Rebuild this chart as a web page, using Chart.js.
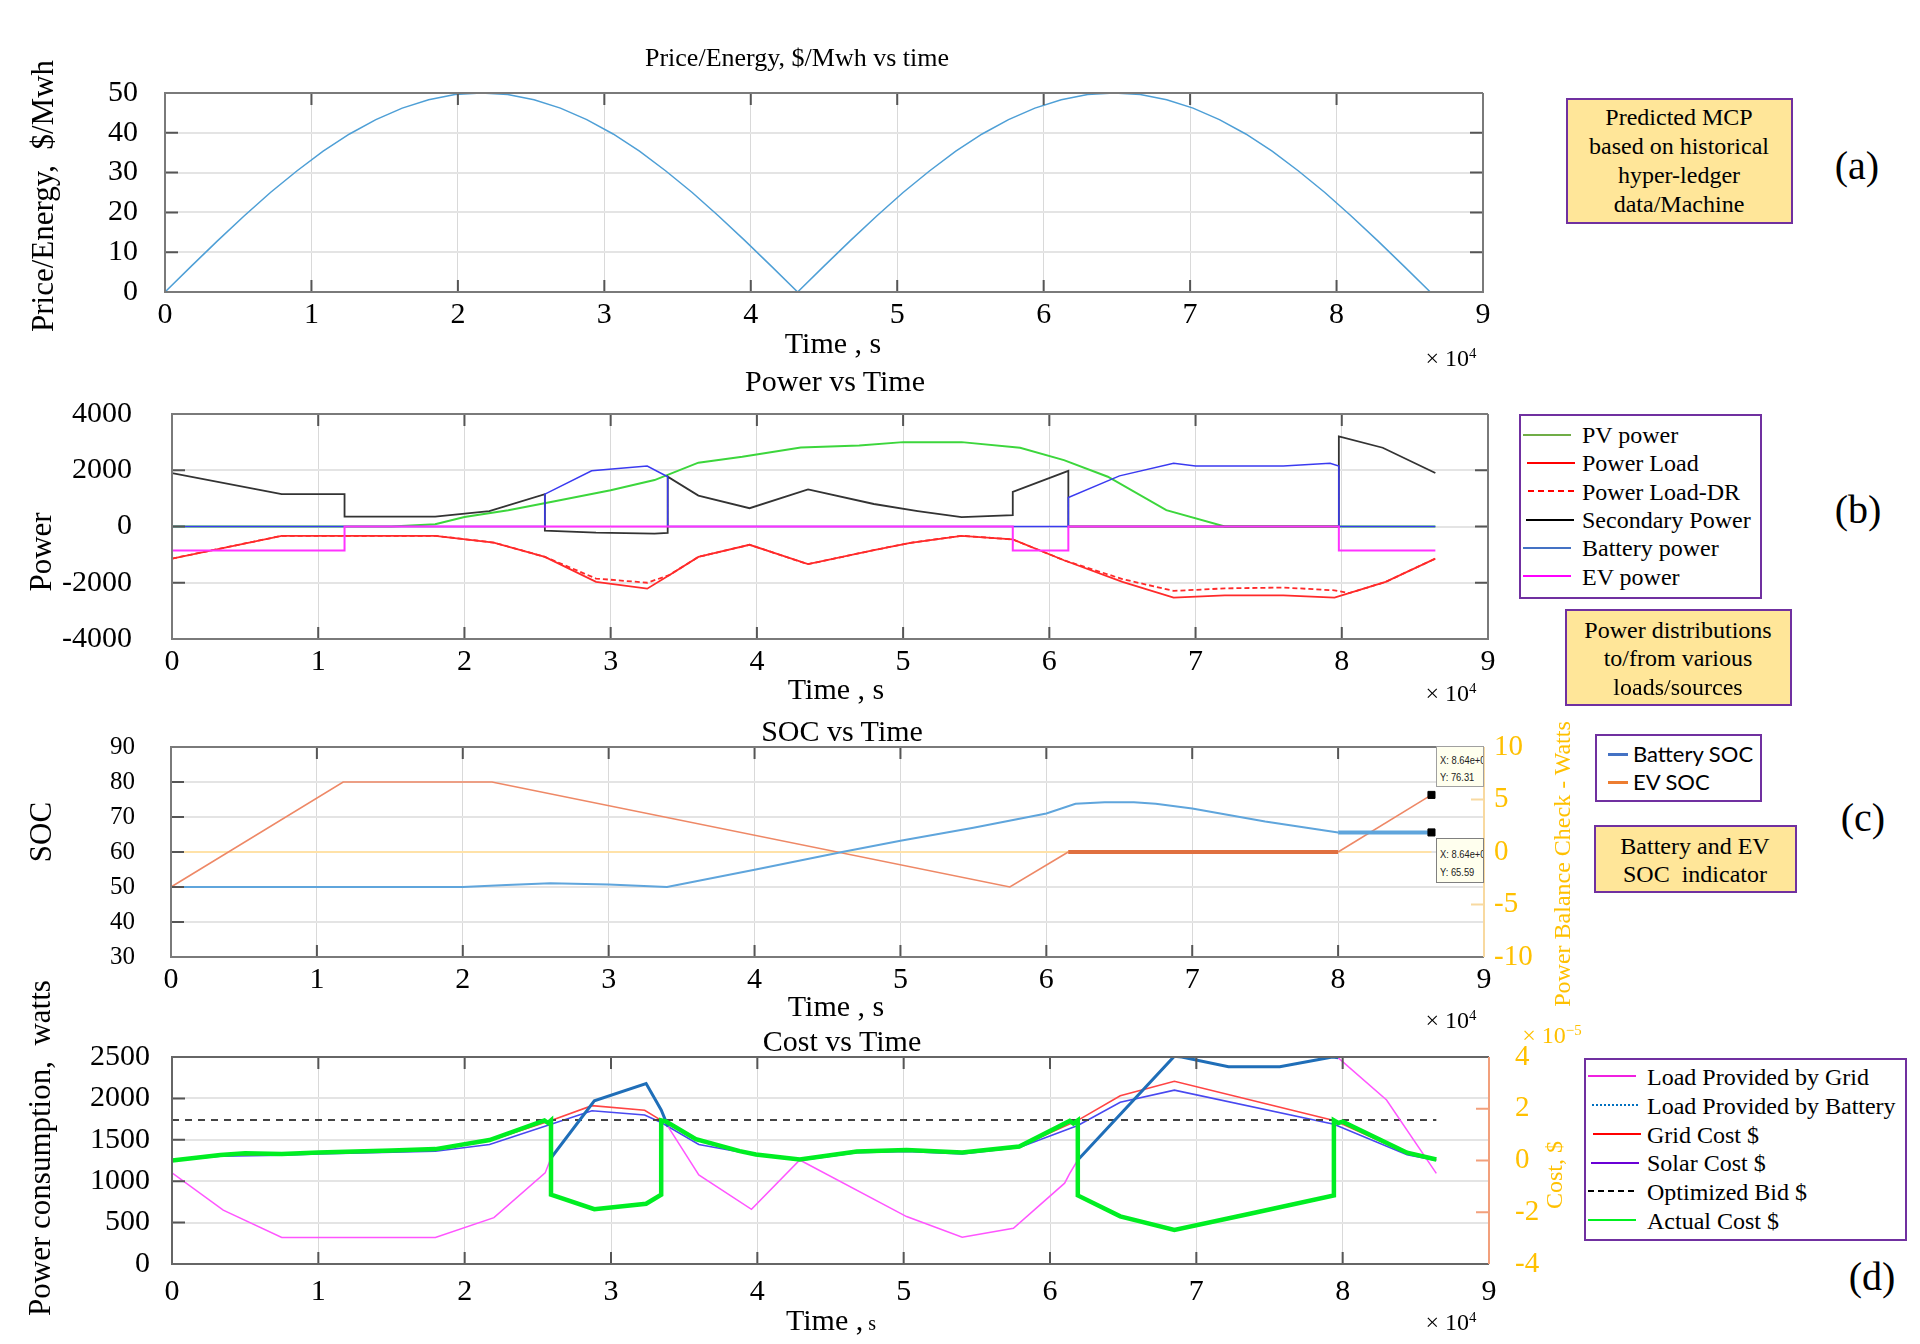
<!DOCTYPE html>
<html>
<head>
<meta charset="utf-8">
<script src="https://cdn.jsdelivr.net/npm/chart.js@4.4.0/dist/chart.umd.min.js"></script>
<style>
  body { margin: 0; width: 1920px; height: 1344px; background: #fff; position: relative; overflow: hidden;
         font-family: "Liberation Serif", "Times New Roman", serif; color: #000; }
  canvas { position: absolute; }
  .t { position: absolute; white-space: nowrap; line-height: 1; transform: translate(-50%, -50%); }
  .l { position: absolute; white-space: nowrap; line-height: 1; transform: translate(0, -50%); }
  .rot { transform: translate(-50%, -50%) rotate(-90deg); }
  .box { position: absolute; box-sizing: border-box; border: 2px solid #7030A0; }
  .note { background: #FFE699; }
  .ln { position: absolute; height: 0; }
  .tip { position: absolute; box-sizing: border-box; background: #FFFFEE; border: 1px solid #A0A0A0; overflow: hidden;
         font-family: "Liberation Sans", Arial, sans-serif; font-size: 11px; color: #222; }
  .tip div { position: absolute; left: 3px; white-space: nowrap; transform: scaleX(0.85); transform-origin: left; }
  sup { font-size: 0.62em; vertical-align: 0.6em; }
</style>
</head>
<body>
<canvas id="pa"></canvas>
<canvas id="pb"></canvas>
<canvas id="pc"></canvas>
<canvas id="pd"></canvas>

<!-- titles -->
<div class="t" style="left:797px;top:58px;font-size:26px">Price/Energy, $/Mwh vs time</div>
<div class="t" style="left:835px;top:381px;font-size:30px">Power vs Time</div>
<div class="t" style="left:842px;top:731px;font-size:30px">SOC vs Time</div>
<div class="t" style="left:842px;top:1041px;font-size:30px">Cost vs Time</div>

<!-- x axis titles -->
<div class="t" style="left:833px;top:343px;font-size:30px">Time , s</div>
<div class="t" style="left:836px;top:689px;font-size:30px">Time , s</div>
<div class="t" style="left:836px;top:1006px;font-size:30px">Time , s</div>
<div class="t" style="left:831px;top:1320px;font-size:30px">Time ,<span style="font-size:20px"> s</span></div>

<div class="t" style="left:1451px;top:358px;font-size:24px">× 10<sup>4</sup></div>
<div class="t" style="left:1451px;top:693px;font-size:24px">× 10<sup>4</sup></div>
<div class="t" style="left:1451px;top:1020px;font-size:24px">× 10<sup>4</sup></div>
<div class="t" style="left:1451px;top:1322px;font-size:24px">× 10<sup>4</sup></div>

<!-- y axis titles -->
<div class="t rot" style="left:42px;top:196px;font-size:31px">Price/Energy,&nbsp; $/Mwh</div>
<div class="t rot" style="left:40px;top:552px;font-size:31px">Power</div>
<div class="t rot" style="left:40px;top:832px;font-size:31px">SOC</div>
<div class="t rot" style="left:39px;top:1148px;font-size:31px">Power consumption,&nbsp; watts</div>
<div class="t rot" style="left:1562px;top:864px;font-size:24px;color:#FFC000">Power Balance Check - Watts</div>
<div class="t rot" style="left:1554px;top:1175px;font-size:24px;color:#FFC000">Cost, $</div>
<div class="t" style="left:1552px;top:1035px;font-size:24px;color:#FFC000">× 10<sup>−5</sup></div>

<!-- panel letters -->
<div class="t" style="left:1857px;top:166px;font-size:40px">(a)</div>
<div class="t" style="left:1858px;top:510px;font-size:40px">(b)</div>
<div class="t" style="left:1863px;top:818px;font-size:40px">(c)</div>
<div class="t" style="left:1872px;top:1277px;font-size:40px">(d)</div>

<!-- note boxes -->
<div class="box note" style="left:1566px;top:98px;width:227px;height:126px"></div>
<div class="t" style="left:1679px;top:117px;font-size:24px">Predicted MCP</div>
<div class="t" style="left:1679px;top:146px;font-size:24px">based on historical</div>
<div class="t" style="left:1679px;top:175px;font-size:24px">hyper-ledger</div>
<div class="t" style="left:1679px;top:204px;font-size:24px">data/Machine</div>

<div class="box note" style="left:1565px;top:609px;width:227px;height:97px"></div>
<div class="t" style="left:1678px;top:630px;font-size:24px">Power distributions</div>
<div class="t" style="left:1678px;top:658px;font-size:24px">to/from various</div>
<div class="t" style="left:1678px;top:687px;font-size:24px">loads/sources</div>

<div class="box note" style="left:1594px;top:825px;width:203px;height:68px"></div>
<div class="t" style="left:1695px;top:846px;font-size:24px">Battery and EV</div>
<div class="t" style="left:1695px;top:874px;font-size:24px">SOC&nbsp; indicator</div>

<!-- legend (b) -->
<div class="box" style="left:1519px;top:414px;width:243px;height:185px"></div>
<div class="ln" style="left:1523px;top:434px;width:48px;border-top:2px solid #70AD47"></div>
<div class="ln" style="left:1527px;top:462px;width:48px;border-top:2px solid #FF0000"></div>
<div class="ln" style="left:1528px;top:490px;width:46px;border-top:2px dashed #FF0000"></div>
<div class="ln" style="left:1526px;top:519px;width:48px;border-top:2px solid #000000"></div>
<div class="ln" style="left:1523px;top:547px;width:48px;border-top:2px solid #4472C4"></div>
<div class="ln" style="left:1523px;top:575px;width:48px;border-top:2px solid #FF00FF"></div>
<div class="l" style="left:1582px;top:435px;font-size:24px">PV power</div>
<div class="l" style="left:1582px;top:463px;font-size:24px">Power Load</div>
<div class="l" style="left:1582px;top:492px;font-size:24px">Power Load-DR</div>
<div class="l" style="left:1582px;top:520px;font-size:24px">Secondary Power</div>
<div class="l" style="left:1582px;top:548px;font-size:24px">Battery power</div>
<div class="l" style="left:1582px;top:577px;font-size:24px">EV power</div>

<!-- legend (c) -->
<div class="box" style="left:1595px;top:734px;width:167px;height:68px"></div>
<div class="ln" style="left:1608px;top:753px;width:20px;border-top:3px solid #4472C4"></div>
<div class="ln" style="left:1608px;top:781px;width:20px;border-top:3px solid #ED7D31"></div>
<div class="l" style="left:1633px;top:754px;font-size:22px;font-family:Lato,'Open Sans',sans-serif">Battery SOC</div>
<div class="l" style="left:1633px;top:782px;font-size:22px;font-family:Lato,'Open Sans',sans-serif">EV SOC</div>

<!-- legend (d) -->
<div class="box" style="left:1584px;top:1058px;width:323px;height:183px"></div>
<div class="ln" style="left:1588px;top:1075px;width:48px;border-top:2px solid #F020E0"></div>
<div class="ln" style="left:1592px;top:1104px;width:46px;border-top:2px dotted #0070C0"></div>
<div class="ln" style="left:1593px;top:1133px;width:48px;border-top:2px solid #FF0000"></div>
<div class="ln" style="left:1591px;top:1162px;width:48px;border-top:2px solid #6A00D6"></div>
<div class="ln" style="left:1588px;top:1190px;width:46px;border-top:2px dashed #000000"></div>
<div class="ln" style="left:1588px;top:1219px;width:48px;border-top:2px solid #00F020"></div>
<div class="l" style="left:1647px;top:1077px;font-size:24px">Load Provided by Grid</div>
<div class="l" style="left:1647px;top:1106px;font-size:24px">Load Provided by Battery</div>
<div class="l" style="left:1647px;top:1135px;font-size:24px">Grid Cost $</div>
<div class="l" style="left:1647px;top:1163px;font-size:24px">Solar Cost $</div>
<div class="l" style="left:1647px;top:1192px;font-size:24px">Optimized Bid $</div>
<div class="l" style="left:1647px;top:1221px;font-size:24px">Actual Cost $</div>

<!-- data tips (c) -->
<div class="tip" style="left:1436px;top:746px;width:48px;height:41px">
  <div style="top:7px">X: 8.64e+04</div><div style="top:24px">Y: 76.31</div>
</div>
<div class="tip" style="left:1436px;top:838px;width:48px;height:45px;border-color:#808080">
  <div style="top:9px">X: 8.64e+04</div><div style="top:27px">Y: 65.59</div>
</div>

<script>
// ---- (a) price, $/MWh vs time (s)
const priceTime = [0, 1800, 3600, 5400, 7200, 9000, 10800, 12600, 14400, 16200, 18000, 19800, 21600,
  23400, 25200, 27000, 28800, 30600, 32400, 34200, 36000, 37800, 39600, 41400, 43200,
  45000, 46800, 48600, 50400, 52200, 54000, 55800, 57600, 59400, 61200, 63000, 64800,
  66600, 68400, 70200, 72000, 73800, 75600, 77400, 79200, 81000, 82800, 84600, 86400];
const priceValue = [0, 6.5, 12.9, 19.1, 25.0, 30.4, 35.4, 39.7, 43.3, 46.2, 48.3, 49.6, 50.0,
  49.6, 48.3, 46.2, 43.3, 39.7, 35.4, 30.4, 25.0, 19.1, 12.9, 6.5, 0,
  6.5, 12.9, 19.1, 25.0, 30.4, 35.4, 39.7, 43.3, 46.2, 48.3, 49.6, 50.0,
  49.6, 48.3, 46.2, 43.3, 39.7, 35.4, 30.4, 25.0, 19.1, 12.9, 6.5, 0];

// ---- (b) power, W
const pvTime = [0, 15000, 18000, 20000, 23000, 26000, 30000, 33000, 36000, 39000, 43000, 47000, 50000,
  54000, 58000, 61000, 64000, 68000, 72000, 86400];
const pvPower = [0, 0, 80, 340, 580, 880, 1290, 1650, 2270, 2480, 2810, 2880, 3000,
  3000, 2800, 2360, 1770, 580, 0, 0];

const loadTime = [0, 7500, 18000, 22000, 25500, 29000, 32500, 34000, 36000, 39500, 43500, 48000,
  50500, 54000, 57500, 61000, 65000, 68500, 72000, 76000, 79500, 80500, 83000, 86400];
const loadPower = [-1140, -330, -330, -570, -1080, -1970, -2210, -1730, -1080, -650, -1340, -840,
  -580, -330, -460, -1200, -1970, -2530, -2450, -2450, -2530, -2370, -1970, -1140];
const loadDrPower = [-1140, -330, -330, -570, -1080, -1850, -2000, -1730, -1080, -650, -1340, -840,
  -580, -330, -460, -1200, -1870, -2290, -2200, -2170, -2270, -2370, -1970, -1140];

const secTime = [0, 7500, 11800, 11800, 18000, 21700, 25500, 25500, 29000, 33000, 33900, 33900, 36000,
  39500, 43500, 48000, 51000, 54000, 57500, 57500, 61300, 61300, 79800, 79800, 82800, 86400];
const secPower = [1900, 1150, 1150, 350, 350, 550, 1150, -150, -220, -250, -230, 1770, 1100,
  650, 1320, 800, 550, 330, 400, 1230, 1980, 0, 0, 3200, 2800, 1900];

const batTime = [0, 25500, 25500, 28700, 32500, 33900, 33900, 61300, 61300, 64800, 68500, 70000,
  76000, 79200, 79800, 79800, 86400];
const batPower = [0, 0, 1150, 1980, 2150, 1770, 0, 0, 1030, 1800, 2250, 2150,
  2150, 2250, 2150, 0, 0];

const evTime = [0, 11800, 11800, 57500, 57500, 61300, 61300, 79800, 79800, 86400];
const evPower = [-850, -850, 0, 0, -850, -850, 0, 0, -850, -850];

// ---- (c) state of charge, %
const batSocTime = [0, 20000, 23000, 26000, 30000, 34000, 40000, 46000, 50000, 55000, 60000, 62000,
  64000, 66000, 67500, 70000, 75000, 80000, 86400];
const batSocValue = [50, 50, 50.6, 51.1, 50.7, 50, 54.9, 60, 63.2, 66.9, 71, 73.8,
  74.2, 74.2, 73.8, 72.4, 68.7, 65.59, 65.59];
const evSocTime = [0, 11800, 22000, 57500, 61500, 80000, 86400];
const evSocValue = [50, 80, 80, 50, 60, 60, 76.31];
const balanceTime = [0, 86400];
const balanceValue = [0, 0];
const tipTime = [86400, 86400];
const tipValue = [76.31, 65.59];

// ---- (d) consumption, W (left) and cost, x1e-5 $ (right)
const gridLoadTime = [0, 3500, 7500, 18000, 22000, 25500, 25900, 30000, 33900, 36000, 39600, 42900,
  50200, 54000, 57500, 61000, 61350, 61900, 70000, 79700, 83000, 86400];
const gridLoadValue = [1100, 650, 320, 320, 560, 1100, 1280, null, 1660, 1075, 660, 1256,
  573, 323, 431, 976, 1095, 1256, null, 2490, 1980, 1095];
const batLoadTime = [25900, 28860, 32400, 33430, 33900, 50000, 61900, 68500, 69000, 72200, 75700, 79300, 79700];
const batLoadValue = [1280, 1970, 2180, 1860, 1660, null, 1256, 2510, 2500, 2383, 2383, 2500, 2490];

const actualTime = [0, 3300, 5000, 7500, 10000, 15000, 18000, 21700, 25450, 25700, 25900, 25900, 28860,
  32400, 33430, 33430, 33770, 35800, 38800, 39900, 42900, 46800, 50200, 54000, 57900, 61350, 61600,
  61900, 61900, 64800, 68500, 73900, 79400, 79400, 79700, 80000, 84400, 86400];
const actualCost = [0, 0.21, 0.28, 0.25, 0.31, 0.39, 0.44, 0.79, 1.55, 1.45, 1.55, -1.32, -1.88,
  -1.67, -1.32, 1.55, 1.5, 0.82, 0.36, 0.23, 0.04, 0.35, 0.41, 0.31, 0.54, 1.53, 1.43,
  1.55, -1.35, -2.16, -2.68, -2.03, -1.35, 1.55, 1.45, 1.5, 0.30, 0.04];
const costTime = [0, 3300, 7500, 10000, 18000, 21700, 25900, 28700, 32300, 33430, 36000, 38800, 42900,
  46800, 50200, 54000, 57900, 61900, 64800, 68500, 79400, 84400, 86400];
const gridCost = [0, 0.2, 0.24, 0.3, 0.42, 0.76, 1.55, 2.12, 1.94, 1.55, 0.8, 0.35, 0.03,
  0.34, 0.4, 0.3, 0.53, 1.55, 2.5, 3.06, 1.55, 0.28, 0.03];
const solarCost = [0, 0.17, 0.2, 0.25, 0.36, 0.62, 1.4, 1.92, 1.76, 1.47, 0.62, 0.33, 0.0,
  0.3, 0.35, 0.25, 0.5, 1.35, 2.25, 2.72, 1.4, 0.22, 0.0];
const bidTime = [0, 86400];
const bidCost = [1.57, 1.57];

// ---------------------------------------------------------------
// padT must cover half a tick label plus the y tick padding, or chart.js pushes the plot down
const yW = 130, rW = 80, padT = 70, xH = 60;
Chart.defaults.font.family = "'Liberation Serif', 'Times New Roman', serif";
Chart.defaults.color = '#000';

function pts(ts, vs) {
  return ts.map((t, i) => ({ x: t, y: vs[i] }));
}

function line(label, ts, vs, color, width, extra) {
  return Object.assign({ label, data: pts(ts, vs), borderColor: color, borderWidth: width,
    pointRadius: 0, fill: false, tension: 0 }, extra || {});
}

// frame + short inner tick marks, matlab style
const frame = {
  id: 'frame',
  afterDatasetsDraw(chart, args, opts) {
    const { ctx, chartArea: a, scales } = chart;
    ctx.save();
    ctx.lineWidth = 2;
    ctx.strokeStyle = '#555';
    ctx.beginPath();
    scales.x.ticks.forEach(t => {
      const px = scales.x.getPixelForValue(t.value);
      if (px <= a.left + 2 || px >= a.right - 2) return;
      ctx.moveTo(px, a.bottom); ctx.lineTo(px, a.bottom - 12);
      ctx.moveTo(px, a.top); ctx.lineTo(px, a.top + 12);
    });
    scales.y.ticks.forEach(t => {
      const py = scales.y.getPixelForValue(t.value);
      if (py <= a.top + 2 || py >= a.bottom - 2) return;
      ctx.moveTo(a.left, py); ctx.lineTo(a.left + 13, py);
      if (!scales.y2) { ctx.moveTo(a.right, py); ctx.lineTo(a.right - 13, py); }
    });
    ctx.stroke();
    if (scales.y2) {
      ctx.strokeStyle = opts.rightColor;
      ctx.beginPath();
      scales.y2.ticks.forEach(t => {
        const py = scales.y2.getPixelForValue(t.value);
        ctx.moveTo(a.right, py); ctx.lineTo(a.right - 13, py);
      });
      ctx.stroke();
    }
    ctx.strokeStyle = opts.color || '#7a7a7a';
    ctx.lineWidth = opts.width || 2;
    ctx.beginPath();
    ctx.moveTo(a.right, a.top); ctx.lineTo(a.left, a.top);
    ctx.lineTo(a.left, a.bottom); ctx.lineTo(a.right, a.bottom);
    if (!scales.y2) ctx.lineTo(a.right, a.top);
    ctx.stroke();
    if (scales.y2) {
      ctx.strokeStyle = opts.rightColor;
      ctx.beginPath(); ctx.moveTo(a.right, a.top); ctx.lineTo(a.right, a.bottom); ctx.stroke();
    }
    ctx.restore();
  }
};

function xScale(pad) {
  return {
    type: 'linear', min: 0, max: 90000,
    afterFit: s => { s.height = xH; },
    ticks: { stepSize: 10000, autoSkip: false, maxRotation: 0, padding: pad, font: { size: 30 },
      callback: v => v / 10000 },
    grid: { drawTicks: false, color: '#d9d9d9', lineWidth: 1 },
    border: { display: false }
  };
}

function yScale(min, max, step, pad, size) {
  return {
    min, max,
    afterFit: s => { s.width = yW; },
    ticks: { stepSize: step, autoSkip: false, padding: pad, font: { size }, callback: v => String(v) },
    grid: { drawTicks: false, color: '#e4e4e4', lineWidth: 2 },
    border: { display: false }
  };
}

function y2Scale(min, max, step, pad) {
  return {
    position: 'right', min, max,
    afterFit: s => { s.width = rW; },
    ticks: { stepSize: step, autoSkip: false, padding: pad, color: '#FFC000', font: { size: 29 },
      callback: v => String(v) },
    grid: { drawOnChartArea: false, drawTicks: false },
    border: { display: false }
  };
}

function panel(id, area, hasRight, datasets, scales, frameOpts) {
  const cv = document.getElementById(id);
  const w = yW + (area.r - area.l) + (hasRight ? rW : 20);
  const h = padT + (area.b - area.t) + xH;
  cv.width = w; cv.height = h;
  cv.style.width = w + 'px'; cv.style.height = h + 'px';
  cv.style.left = (area.l - yW) + 'px';
  cv.style.top = (area.t - padT) + 'px';
  return new Chart(cv, {
    type: 'line',
    data: { datasets },
    options: {
      responsive: false,
      animation: false,
      layout: { padding: { top: padT, right: hasRight ? 0 : 20, left: 0, bottom: 0 } },
      plugins: { legend: { display: false }, tooltip: { enabled: false }, frame: frameOpts || {} },
      scales
    },
    plugins: [frame]
  });
}

// (a)
panel('pa', { l: 165, r: 1483, t: 93, b: 292 }, false, [
  line('Price', priceTime, priceValue, '#4E9FD6', 1.5)
], { x: xScale(5), y: yScale(0, 50, 10, 27, 30) });

// (b)
panel('pb', { l: 172, r: 1488, t: 414, b: 639 }, false, [
  line('EV power', evTime, evPower, '#FF33FF', 2),
  line('Battery power', batTime, batPower, '#3A3AF0', 1.5),
  line('Secondary Power', secTime, secPower, '#333333', 1.8),
  line('PV power', pvTime, pvPower, '#3CD63C', 2),
  line('Power Load', loadTime, loadPower, '#FF2A2A', 1.8),
  line('Power Load-DR', loadTime, loadDrPower, '#FF2A2A', 1.8, { borderDash: [5, 3] })
], { x: xScale(5), y: yScale(-4000, 4000, 2000, 40, 30) });

// (c)
panel('pc', { l: 171, r: 1484, t: 747, b: 957 }, true, [
  { label: 'tips', data: pts(tipTime, tipValue), showLine: false, pointStyle: 'rect',
    pointRadius: 5, backgroundColor: '#000', borderColor: '#000', yAxisID: 'y' },
  line('Battery SOC', batSocTime, batSocValue, '#5FA5DC', 2,
    { segment: { borderWidth: c => c.p0DataIndex >= 17 ? 4 : 2 } }),
  line('EV SOC', evSocTime, evSocValue, '#EE8866', 1.6,
    { segment: { borderWidth: c => c.p0DataIndex === 4 ? 4 : 1.6, borderColor: c => c.p0DataIndex === 4 ? '#E07040' : '#EE8866' } }),
  line('Balance', balanceTime, balanceValue, '#FFE2A8', 2, { yAxisID: 'y2' })
], { x: xScale(5), y: yScale(30, 90, 10, 36, 25), y2: y2Scale(-10, 10, 5, 10) },
  { rightColor: '#F8D9A0' });

// (d)
panel('pd', { l: 172, r: 1489, t: 1057, b: 1264 }, true, [
  line('Actual Cost $', actualTime, actualCost, '#00EE22', 4.5, { yAxisID: 'y2' }),
  line('Load Provided by Battery', batLoadTime, batLoadValue, '#1F6EB8', 3, { yAxisID: 'y' }),
  line('Load Provided by Grid', gridLoadTime, gridLoadValue, '#FF55FF', 1.5, { yAxisID: 'y' }),
  line('Optimized Bid $', bidTime, bidCost, '#444444', 2, { yAxisID: 'y2', borderDash: [7, 6] }),
  line('Grid Cost $', costTime, gridCost, '#FF4444', 1.6, { yAxisID: 'y2' }),
  line('Solar Cost $', costTime, solarCost, '#4848F0', 1.6, { yAxisID: 'y2' })
], { x: xScale(10), y: yScale(0, 2500, 500, 22, 30), y2: y2Scale(-4, 4, 2, 26) },
  { rightColor: '#F2A07C', color: '#666' });
</script>
</body>
</html>
